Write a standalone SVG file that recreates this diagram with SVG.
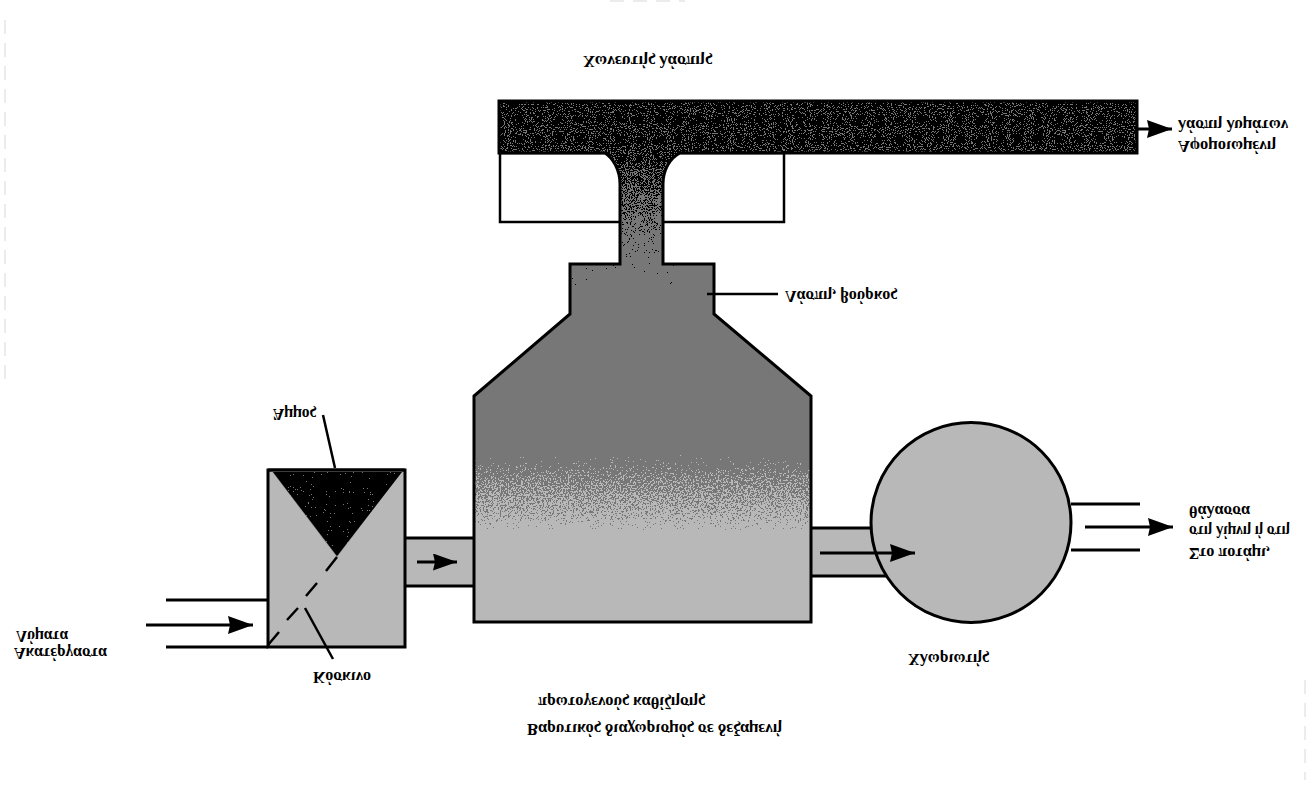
<svg xmlns="http://www.w3.org/2000/svg" width="1309" height="798" viewBox="0 0 1309 798">
<style>
text{font-family:"Liberation Serif","DejaVu Serif",serif;font-size:16px;font-weight:bold;fill:#000}
.ln{fill:none;stroke:#000;stroke-width:3}
.thin{fill:none;stroke:#000;stroke-width:2.5}
.gf{fill:#b8b8b8}
.ol{fill:none;stroke:#000;stroke-width:3;stroke-linejoin:miter}
.scan{fill:none;stroke:#d8d8d8;stroke-width:1;stroke-dasharray:14 9}
</style>
<defs>
<marker id="ah" markerUnits="userSpaceOnUse" markerWidth="26" markerHeight="18" refX="25" refY="9" orient="auto"><path d="M0 0 L25 9 L0 18 L2 9Z" fill="#000"/></marker>
<marker id="as" markerUnits="userSpaceOnUse" markerWidth="25" markerHeight="17" refX="24" refY="8.5" orient="auto"><path d="M0 0 L24 8.5 L0 17 L2 8.5Z" fill="#000"/></marker>
<linearGradient id="gBlack" gradientUnits="userSpaceOnUse" x1="0" y1="100" x2="0" y2="270"><stop offset="0" stop-color="#000" stop-opacity=".62"/><stop offset=".3" stop-color="#000" stop-opacity=".6"/><stop offset=".6" stop-color="#000" stop-opacity=".46"/><stop offset="1" stop-color="#000" stop-opacity=".22"/></linearGradient>
<linearGradient id="gLight" gradientUnits="userSpaceOnUse" x1="0" y1="455" x2="0" y2="530"><stop offset="0" stop-color="#000" stop-opacity=".22"/><stop offset=".3" stop-color="#000" stop-opacity=".42"/><stop offset=".8" stop-color="#000" stop-opacity=".6"/><stop offset="1" stop-color="#000" stop-opacity=".75"/></linearGradient>
<filter id="ditherK" filterUnits="userSpaceOnUse" x="0" y="0" width="1309" height="798" color-interpolation-filters="sRGB">
<feTurbulence type="fractalNoise" baseFrequency=".95" numOctaves="2" seed="4" result="n"/>
<feColorMatrix in="n" type="matrix" values="0 0 0 0 0 0 0 0 0 0 0 0 0 0 0 1 0 0 0 0" result="na"/>
<feComposite in="na" in2="SourceAlpha" operator="arithmetic" k1="0" k2="1" k3="1" k4="-.5"/>
<feComponentTransfer result="m"><feFuncA type="discrete" tableValues="0 1"/></feComponentTransfer>
<feFlood flood-color="#000"/><feComposite in2="m" operator="in"/>
</filter>
<filter id="ditherL" filterUnits="userSpaceOnUse" x="0" y="0" width="1309" height="798" color-interpolation-filters="sRGB">
<feTurbulence type="fractalNoise" baseFrequency=".6" numOctaves="2" seed="9" result="n"/>
<feColorMatrix in="n" type="matrix" values="0 0 0 0 0 0 0 0 0 0 0 0 0 0 0 1 0 0 0 0" result="na"/>
<feComposite in="na" in2="SourceAlpha" operator="arithmetic" k1="0" k2="1" k3="1" k4="-.5"/>
<feComponentTransfer result="m"><feFuncA type="discrete" tableValues="0 1"/></feComponentTransfer>
<feFlood flood-color="#b8b8b8"/><feComposite in2="m" operator="in"/>
</filter>
<clipPath id="cpT"><path d="M499 101H1137V153H680C670 158 663 170 663 184V264H714V314L811 396V622H474V396L570 314V264H620V184C620 170 613 158 605 153H499Z"/></clipPath>
<clipPath id="cpV"><path d="M273 472H402L337 556Z"/></clipPath>
</defs>
<rect width="1309" height="798" fill="#fff"/>
<path class="scan" d="M5 20V380M610 1H685M1305 680V780"/>
<g id="digester-support"><rect x="500" y="153" width="284" height="69" fill="#fff" stroke="#000" stroke-width="2.5"/></g>
<g id="pipe-in"><rect x="405" y="538" width="68" height="48" class="gf"/><path class="ln" d="M405 538H473M405 586H473"/></g>
<g id="pipe-out"><rect x="812" y="528" width="80" height="48" class="gf"/><path class="ln" d="M812 528H885M812 576H890"/></g>
<g id="tank">
<g clip-path="url(#cpT)">
<rect x="470" y="95" width="680" height="535" fill="#777"/>
<rect x="470" y="95" width="680" height="190" fill="url(#gBlack)" filter="url(#ditherK)"/>
<rect x="470" y="455" width="345" height="75" fill="url(#gLight)" filter="url(#ditherL)"/>
<rect x="470" y="530" width="345" height="95" fill="#b8b8b8"/>
</g>
<path class="ol" d="M499 101H1137V153H680C670 158 663 170 663 184V264H714V314L811 396V622H474V396L570 314V264H620V184C620 170 613 158 605 153H499Z"/>
</g>
<g id="grit-chamber">
<rect x="268" y="470" width="137" height="177" class="gf" stroke="#000" stroke-width="3"/>
<path d="M271 470H403L337 557Z" fill="#777"/>
<g clip-path="url(#cpV)"><rect x="270" y="470" width="135" height="90" fill="#000" fill-opacity=".74" filter="url(#ditherK)"/></g>
<path d="M268 470H405" class="ln"/>
<path class="thin" d="M337 557L326 571M317 583L306 596M298 608L287 620M279 632L268 645"/>
</g>
<g id="chlorinator"><circle cx="971" cy="522.5" r="100" class="gf" stroke="#000" stroke-width="3"/></g>
<g id="connectors">
<path class="ln" d="M166 600H268M166 647H268"/>
<path class="ln" d="M146 625H253" marker-end="url(#ah)"/>
<path class="ln" d="M1071 504H1140M1071 550H1140"/>
<path class="ln" d="M1085 527H1173" marker-end="url(#ah)"/>
<path class="ln" d="M1137 129H1172" marker-end="url(#ah)"/>
<path class="thin" d="M323 415L335 468M305 608L333 659M778 294H707"/>
<path class="ln" d="M417 562H457" marker-end="url(#as)"/>
<path class="ln" d="M820 553H915" marker-end="url(#ah)"/>
</g>
<g id="labels">
<text transform="translate(583 56) scale(1 -1)" textLength="129" lengthAdjust="spacingAndGlyphs">Χωνευτής λάσπης</text>
<text transform="translate(1178 120) scale(1 -1)" textLength="110" lengthAdjust="spacingAndGlyphs">λάσπη λυμάτων</text>
<text transform="translate(1178 141) scale(1 -1)" textLength="98" lengthAdjust="spacingAndGlyphs">Αφομοιωμένη</text>
<text transform="translate(785 291) scale(1 -1)" textLength="112" lengthAdjust="spacingAndGlyphs">Λάσπη, βούρκος</text>
<text transform="translate(1189 506) scale(1 -1)" textLength="61" lengthAdjust="spacingAndGlyphs">θάλασσα</text>
<text transform="translate(1189 526) scale(1 -1)" textLength="101" lengthAdjust="spacingAndGlyphs">στη λίμνη ή στη</text>
<text transform="translate(1189 548) scale(1 -1)" textLength="81" lengthAdjust="spacingAndGlyphs">Στο ποτάμι,</text>
<text transform="translate(538 697) scale(1 -1)" textLength="167" lengthAdjust="spacingAndGlyphs">πρωτογενούς καθίζησης</text>
<text transform="translate(527 724) scale(1 -1)" textLength="255" lengthAdjust="spacingAndGlyphs">Βαρυτικός διαχωρισμός σε δεξαμενή</text>
<text transform="translate(16 631) scale(1 -1)" textLength="52" lengthAdjust="spacingAndGlyphs">Λύματα</text>
<text transform="translate(14 648) scale(1 -1)" textLength="93" lengthAdjust="spacingAndGlyphs">Ακατέργαστα</text>
<text transform="translate(313 672) scale(1 -1)" textLength="58" lengthAdjust="spacingAndGlyphs">Κόσκινο</text>
<text transform="translate(273 409) scale(1 -1)" textLength="43" lengthAdjust="spacingAndGlyphs">Άμμος</text>
<text transform="translate(908 654) scale(1 -1)" textLength="81" lengthAdjust="spacingAndGlyphs">Χλωριωτής</text>
</g>
</svg>
